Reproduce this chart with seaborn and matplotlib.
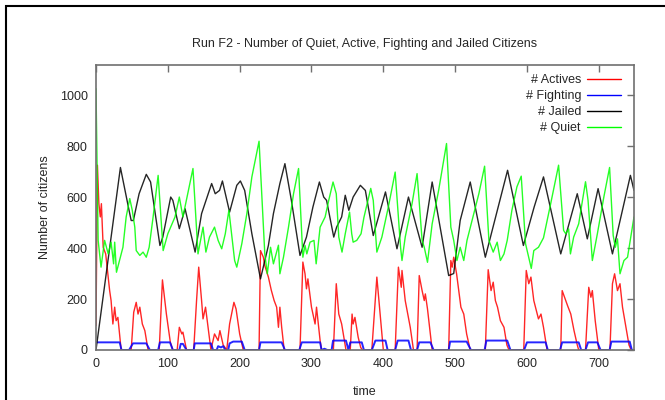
import pandas as pd
import seaborn as sns
import matplotlib.pyplot as plt
from matplotlib.patches import Rectangle

# values (time, number of citizens)
actives_t = [0, 2, 4, 6, 7.5, 10, 13.5, 17, 19, 21, 23.5, 26, 28, 30.5, 35, 49, 52.5, 56, 58.5, 61,
             64.5, 68, 72.5, 88, 92.5, 98, 103.5, 107, 113, 116, 119.5, 121, 126, 136, 140, 143, 147,
             149, 152.5, 156, 160, 165, 170, 172.5, 177, 182, 186, 192, 195, 200, 205, 227, 229, 233,
             235, 240, 244, 248, 251.5, 254, 256, 258.5, 262, 284, 288, 291, 293, 295, 300, 305, 307,
             312, 314, 330.5, 334.5, 338, 342, 348, 354, 356.5, 358, 360.5, 365, 368.5, 371, 384, 391,
             400, 416.5, 421, 425, 426, 430.5, 437.5, 442, 447, 450, 454, 457, 458.5, 461.5, 468, 491,
             494, 496, 498, 502, 505, 508, 512, 516, 521, 542, 546, 550, 553, 556, 559, 563, 568, 572,
             575, 595.5, 599, 602.5, 605.5, 609.5, 616, 619.5, 623, 628, 647, 649, 654, 656.5, 661,
             665.5, 670, 672, 681.5, 686, 689, 691, 695, 700, 715.5, 719, 722, 726, 729.5, 733, 737,
             742, 745, 749]
actives_v = [96, 725, 574, 522, 574, 403, 377, 286, 233, 194, 102, 168, 115, 128, 0, 0, 148, 187, 141, 168,
             102, 76, 0, 0, 275, 141, 30, 0, 0, 89, 63, 70, 0, 0, 194, 325, 194,
             122, 168, 89, 0, 63, 37, 76, 20, 0, 102, 187, 161, 63, 0, 0, 390, 364,
             331, 286, 235, 194, 168, 89, 168, 89, 0, 0, 345, 299, 240, 279, 168, 102, 168,
             37, 0, 0, 260, 141, 102, 0, 0, 141, 102, 128, 50, 10, 0, 0, 286,
             0, 0, 325, 246, 312, 194, 89, 0, 0, 292, 233, 194, 220, 161, 0, 0,
             351, 325, 364, 299, 233, 168, 141, 63, 0, 0, 315, 233, 266, 194, 168, 115, 89, 20,
             0, 0, 312, 260, 286, 194, 122, 141, 89, 0, 0, 233, 194, 174, 141,
             76, 20, 0, 0, 246, 207, 233, 115, 0, 0, 260, 299, 233, 260, 168, 102,
             20, 0, 0]

fighting_t = [0, 33, 35.5, 46, 51.5, 70, 75, 86.5, 89, 103, 107, 116, 118, 121, 126, 136, 137.5, 160,
              163, 168, 170, 174, 177, 180, 184, 186, 191, 203, 207, 227, 229, 258.5, 263, 283, 286.5,
              312, 314, 318, 322, 328, 330, 348, 351.5, 354, 370, 373, 384, 389, 403, 406, 416.5, 420,
              435, 438.5, 447, 450, 465.5, 470, 491, 493, 516, 522, 541, 543.5, 572.5, 577, 596, 600,
              626, 629, 646, 649, 672, 675.5, 681.5, 685, 698, 702.5, 715, 717.5, 743, 746, 749]
fighting_v = [30, 30, 0, 0, 26, 26, 0, 0, 30, 30, 0, 0, 24, 24, 0, 0, 26, 26,
              0, 0, 15, 10, 15, 0, 0, 26, 33, 33, 0, 0, 30, 30, 0, 0, 30,
              30, 0, 5, 0, 0, 37, 37, 0, 30, 30, 0, 0, 37, 37, 0, 0, 37,
              37, 0, 0, 30, 30, 0, 0, 33, 33, 0, 0, 37, 37, 0, 0, 30,
              30, 0, 0, 30, 30, 0, 0, 30, 30, 0, 0, 33, 33, 0, 0]

jailed_t = [0, 34, 46, 49, 52, 60, 70, 76, 89, 93, 104, 107, 116, 124, 138, 147, 161, 166, 172, 176,
            186, 196, 201, 207, 217, 229, 240, 247, 256, 263, 272, 284, 293, 302, 311, 317, 321, 331,
            335, 342, 347, 352, 358, 368, 375, 386, 403, 419, 435, 454, 468, 491, 498, 507, 521, 542,
            573, 595, 610, 623, 647, 670, 684, 699, 719, 744, 749]
jailed_v = [0, 716, 548, 508, 508, 613, 689, 659, 410, 443, 600, 587, 476, 554, 384, 535, 653, 613, 626, 663,
            541, 646, 663, 626, 456, 279, 410, 535, 653, 731, 587, 371, 443, 561, 659, 600, 587, 443,
            482, 522, 607, 548, 600, 646, 626, 449, 620, 397, 600, 403, 659, 292, 300, 508, 659, 364,
            705, 410, 561, 679, 377, 613, 436, 633, 377, 685, 626]

quiet_t = [0, 3, 7, 12, 17, 21, 24.5, 26, 28.5, 37.5, 42, 47, 50.5, 54, 56, 61, 65.5, 70, 74, 79.5,
           86.5, 93.5, 100, 110, 116, 121, 135, 142, 149, 153, 158, 165, 170, 175, 180, 185, 193, 196,
           203, 210, 217, 227, 235, 238.5, 243, 247, 254, 256, 261, 268, 275, 282, 288, 291, 293.5,
           298, 303.5, 306.5, 312, 319, 324, 330, 334.5, 338, 342.5, 347, 353, 356, 358, 363, 369,
           373, 382.5, 386, 391, 398, 407, 416.5, 424, 426, 430.5, 440, 447, 454, 457, 461.5, 468,
           477, 488, 494, 498, 502.5, 507, 512, 516.5, 523.5, 533, 541, 547, 553, 558.5, 563, 568,
           572.5, 579, 586, 592, 598, 606, 609.5, 616, 623, 633, 644, 651, 654, 658, 660.5, 665, 672,
           681.5, 685, 691, 698, 707, 715, 720, 723, 726, 729.5, 735, 740, 749]
quiet_v = [1025, 430, 325, 430, 377, 423, 338, 423, 305, 403, 522, 594, 548, 482, 390, 371, 384, 364, 403, 522,
           685, 390, 456, 522, 600, 522, 712, 377, 482, 384, 443, 482, 430, 397, 456, 548, 351, 325,
           417, 535, 679, 819, 377, 299, 403, 338, 411, 299, 364, 482, 613, 712, 364, 410, 377,
           423, 430, 338, 482, 522, 587, 659, 613, 443, 384, 456, 541, 456, 423, 430, 456,
           520, 634, 587, 384, 443, 561, 698, 403, 351, 443, 574, 692, 430, 403, 344, 495,
           626, 810, 482, 430, 351, 403, 351, 430, 508, 613, 721, 430, 384, 423, 351, 377,
           430, 548, 640, 682, 417, 320, 390, 403, 440, 574, 725, 469, 456, 475, 377, 443, 495,
           660, 588, 351, 456, 600, 716, 450, 403, 436, 299, 351, 364, 522]

series_names = ['# Actives', '# Fighting', '# Jailed', '# Quiet']
series_colors = ['#ff0000', '#0000ff', '#000000', '#00ff00']

frames = []
for name, t, v in zip(series_names,
                      [actives_t, fighting_t, jailed_t, quiet_t],
                      [actives_v, fighting_v, jailed_v, quiet_v]):
    frames.append(pd.DataFrame({'time': t, 'citizens': v, 'series': name}))
df = pd.concat(frames, ignore_index=True)

sns.set_style("white")
plt.rcParams['font.family'] = ['Liberation Sans', 'DejaVu Sans']

fig = plt.figure(figsize=(6.65, 4.0), dpi=100)
ax = fig.add_axes([96 / 665, 1 - 350 / 400, 538 / 665, 285 / 400])

sns.lineplot(data=df, x='time', y='citizens', hue='series', hue_order=series_names,
             palette=dict(zip(series_names, series_colors)), estimator=None, sort=False,
             linewidth=1.0, alpha=0.85, ax=ax, legend=False)
# the fighting line is jittery in the original, so it reads thicker
ax.lines[1].set_linewidth(1.4)

ax.set_xlim(0, 749)
ax.set_ylim(0, 1118)
ax.set_xticks(range(0, 701, 100))
ax.set_yticks(range(0, 1001, 200))
ax.tick_params(direction='in', length=5, width=1, color='#707070', top=True, right=True,
               labeltop=False, labelright=False, labelsize=9, pad=6)
for s in ax.spines.values():
    s.set_color('#707070')
    s.set_linewidth(1.2)

ax.set_title('Run F2 - Number of Quiet, Active, Fighting and Jailed Citizens', fontsize=9, pad=13)
ax.set_xlabel('time', fontsize=9, labelpad=11)
ax.set_ylabel('Number of citizens', fontsize=9, labelpad=6)

handles = [plt.Line2D([], [], color=c, linewidth=1.0) for c in series_colors]
ax.legend(handles, series_names, markerfirst=False, frameon=False, fontsize=9, handlelength=2.7,
          handletextpad=0.5, labelspacing=0.32, borderpad=0, borderaxespad=0,
          loc='upper right', bbox_to_anchor=(621 / 665, 1 - 74 / 400), bbox_transform=fig.transFigure)

# outer frame of the original screenshot
fig.patches.append(Rectangle((6 / 665, -0.1), 1.2, 1.1 - 6 / 400, transform=fig.transFigure,
                             fill=False, edgecolor='black', linewidth=1.5))

fig.savefig('out.png', dpi=100)
